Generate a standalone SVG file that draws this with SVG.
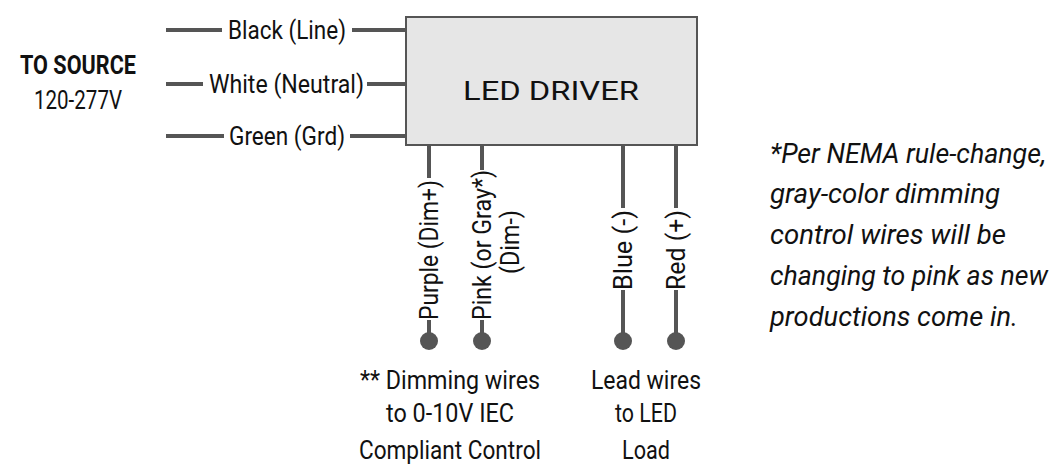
<svg xmlns="http://www.w3.org/2000/svg" width="1062" height="473" viewBox="0 0 1062 473">
<style>
text{font-family:Roboto,"Liberation Sans",sans-serif;fill:#111;font-size:25px}
.w{stroke:#555;stroke-width:4;fill:none}
.d{fill:#555}
.it{font-style:italic;font-size:28px}
.c{text-anchor:middle}
</style>
<rect width="1062" height="473" fill="#fff"/>
<g id="driver"><rect x="406" y="17" width="291" height="128" fill="#e6e6e6" stroke="#555" stroke-width="2"/>
<text x="551" y="100" class="c" font-size="43" textLength="176" lengthAdjust="spacingAndGlyphs">LED DRIVER</text></g>
<g id="source"><text x="78" y="74" class="c" font-weight="bold" font-size="26" textLength="116" lengthAdjust="spacingAndGlyphs">TO SOURCE</text>
<text x="78" y="109" class="c" textLength="88" lengthAdjust="spacingAndGlyphs">120-277V</text></g>
<g id="connectors">
<path class="w" d="M166 30H222M352 30H406M166 84H203M367 84H406M166 136H224M350 136H406"/>
<path class="w" d="M429 145V178M429 320V338M482 145V170M482 320V338M623 145V208M623 290V338M676 145V208M676 290V338"/>
<circle class="d" cx="429" cy="341" r="9"/><circle class="d" cx="482" cy="341" r="9"/>
<circle class="d" cx="623" cy="341" r="9"/><circle class="d" cx="676" cy="341" r="9"/>
</g>
<g id="labels">
<text x="228" y="39" textLength="118" lengthAdjust="spacingAndGlyphs">Black (Line)</text>
<text x="209" y="93" textLength="155" lengthAdjust="spacingAndGlyphs">White (Neutral)</text>
<text x="229" y="145" textLength="116" lengthAdjust="spacingAndGlyphs">Green (Grd)</text>
<text transform="translate(438,320) rotate(-90)" textLength="140" lengthAdjust="spacingAndGlyphs">Purple (Dim+)</text>
<text transform="translate(491,320) rotate(-90)" textLength="150" lengthAdjust="spacingAndGlyphs">Pink (or Gray*)</text>
<text transform="translate(519,242) rotate(-90)" class="c" textLength="64" lengthAdjust="spacingAndGlyphs">(Dim-)</text>
<text transform="translate(632,290) rotate(-90)" textLength="80" lengthAdjust="spacingAndGlyphs">Blue (-)</text>
<text transform="translate(685,290) rotate(-90)" textLength="80" lengthAdjust="spacingAndGlyphs">Red (+)</text>
</g>
<g id="notes">
<text x="450" y="389" class="c" textLength="180" lengthAdjust="spacingAndGlyphs">** Dimming wires</text>
<text x="450" y="422" class="c" textLength="128" lengthAdjust="spacingAndGlyphs">to 0-10V IEC</text>
<text x="450" y="459" class="c" textLength="182" lengthAdjust="spacingAndGlyphs">Compliant Control</text>
<text x="646" y="389" class="c" textLength="110" lengthAdjust="spacingAndGlyphs">Lead wires</text>
<text x="646" y="422" class="c" textLength="62" lengthAdjust="spacingAndGlyphs">to LED</text>
<text x="646" y="459" class="c" textLength="48" lengthAdjust="spacingAndGlyphs">Load</text>
<text x="770" y="163" class="it" textLength="276" lengthAdjust="spacingAndGlyphs">*Per NEMA rule-change,</text>
<text x="770" y="203" class="it" textLength="230" lengthAdjust="spacingAndGlyphs">gray-color dimming</text>
<text x="770" y="244" class="it" textLength="236" lengthAdjust="spacingAndGlyphs">control wires will be</text>
<text x="770" y="285" class="it" textLength="278" lengthAdjust="spacingAndGlyphs">changing to pink as new</text>
<text x="770" y="326" class="it" textLength="248" lengthAdjust="spacingAndGlyphs">productions come in.</text>
</g>
</svg>
